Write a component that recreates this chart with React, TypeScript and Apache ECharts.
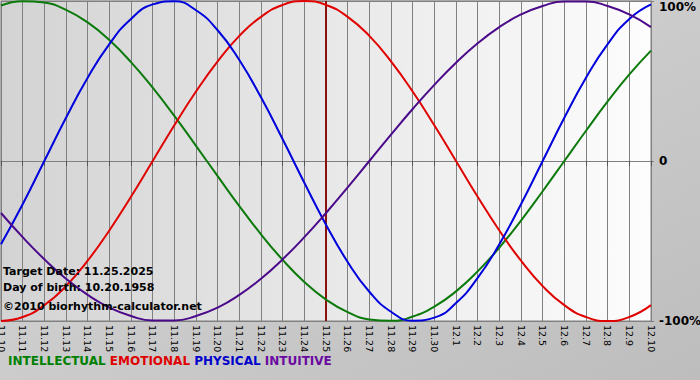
import React, { useEffect, useRef } from "react";
import * as echarts from "echarts";

const days = [
  "11.10", "11.11", "11.12", "11.13", "11.14", "11.15", "11.16", "11.17", "11.18", "11.19",
  "11.20", "11.21", "11.22", "11.23", "11.24", "11.25", "11.26", "11.27", "11.28", "11.29",
  "11.30", "12.1", "12.2", "12.3", "12.4", "12.5", "12.6", "12.7", "12.8", "12.9", "12.10",
];

const intellectual = [
  97.2, 99.9, 99.0, 94.5, 86.6, 75.6, 61.8, 45.8, 28.2, 9.5,
  -9.5, -28.2, -45.8, -61.8, -75.6, -86.6, -94.5, -99.0, -99.9, -97.2,
  -91.0, -81.5, -69.0, -54.1, -37.2, -18.9, 0, 18.9, 37.2, 54.1, 69.0,
];

const emotional = [
  -100, -97.5, -90.1, -78.2, -62.3, -43.4, -22.3, 0, 22.3, 43.4,
  62.3, 78.2, 90.1, 97.5, 100, 97.5, 90.1, 78.2, 62.3, 43.4,
  22.3, 0, -22.3, -43.4, -62.3, -78.2, -90.1, -97.5, -100, -97.5, -90.1,
];

const physical = [
  -52.0, -27.0, 0, 27.0, 52.0, 73.1, 88.8, 97.9, 99.8, 94.2,
  81.7, 63.1, 39.8, 13.6, -13.6, -39.8, -63.1, -81.7, -94.2, -99.8,
  -97.9, -88.8, -73.1, -52.0, -27.0, 0, 27.0, 52.0, 73.1, 88.8, 97.9,
];

const intuitive = [
  -32.5, -47.6, -61.4, -73.6, -83.7, -91.6, -96.9, -99.7, -99.7, -96.9,
  -91.6, -83.7, -73.6, -61.4, -47.6, -32.5, -16.5, 0, 16.5, 32.5,
  47.6, 61.4, 73.6, 83.7, 91.6, 96.9, 99.7, 99.7, 96.9, 91.6, 83.7,
];

const targetDay = "11.25";
const infoLines = ["Target Date: 11.25.2025", "Day of birth: 10.20.1958", "©2010 biorhythm-calculator.net"];
const legendNames = ["INTELLECTUAL", "EMOTIONAL", "PHYSICAL", "INTUITIVE"];

const lineColors = ["#0b7a0b", "#e00000", "#0000dd", "#4b0a8a"];
const legendColors = ["#008000", "#e00000", "#0000cc", "#6a0aa0"];

const FONT = "DejaVu Sans";

export default function App() {
  const ref = useRef<HTMLDivElement>(null);

  useEffect(() => {
    if (!ref.current) return;
    const chart = echarts.init(ref.current, null, { renderer: "svg" });

    const seriesData = [intellectual, emotional, physical, intuitive];
    const series: any[] = seriesData.map((d, i) => ({
      name: legendNames[i],
      type: "line",
      data: d,
      smooth: 0.5,
      symbol: "none",
      lineStyle: { color: lineColors[i], width: 2 },
      z: 3,
    }));
    series[0].markLine = {
      silent: true,
      symbol: "none",
      label: { show: false },
      lineStyle: { color: "#8b1010", width: 2, type: "solid" },
      data: [{ xAxis: targetDay }],
      z: 2,
    };

    const richStyles: any = {};
    legendNames.forEach((n, i) => {
      richStyles["c" + i] = {
        fill: legendColors[i],
        fontFamily: FONT,
        fontWeight: "bold",
        fontSize: 12,
      };
    });

    chart.setOption({
      animation: false,
      backgroundColor: new echarts.graphic.LinearGradient(0, 0, 1, 1, [
        { offset: 0, color: "#dadada" },
        { offset: 1, color: "#bdbdbd" },
      ]),
      grid: {
        left: 1,
        right: 49,
        top: 1,
        bottom: 59,
        outerBoundsMode: "none",
        containLabel: false,
        show: true,
        backgroundColor: new echarts.graphic.LinearGradient(0, 0, 1, 0, [
          { offset: 0, color: "#d3d3d3" },
          { offset: 1, color: "#fdfdfd" },
        ]),
        borderColor: "#808080",
        borderWidth: 1,
      },
      xAxis: {
        type: "category",
        data: days,
        boundaryGap: false,
        axisLine: { show: true, lineStyle: { color: "#808080", width: 1 } },
        axisTick: { show: true, interval: 0, length: 5, lineStyle: { color: "#555555" } },
        axisLabel: {
          interval: 0,
          rotate: -90,
          margin: 4,
          color: "#000000",
          fontFamily: FONT,
          fontSize: 9.5,
        },
        splitLine: { show: true, interval: 0, lineStyle: { color: "#808080", width: 1 } },
      },
      yAxis: {
        type: "value",
        position: "right",
        min: -100,
        max: 100,
        interval: 100,
        axisLine: { show: true, lineStyle: { color: "#808080" } },
        axisTick: { show: true, length: 3, lineStyle: { color: "#808080" } },
        axisLabel: {
          margin: 8,
          color: "#000000",
          fontFamily: FONT,
          fontWeight: "bold",
          fontSize: 12,
          verticalAlignMaxLabel: "top",
          formatter: (v: number) => (v === 0 ? "0" : v + "%"),
        },
        splitLine: { show: true, lineStyle: { color: "#808080", width: 1 } },
      },
      series,
      graphic: [
        ...infoLines.map((t, i) => ({
          type: "text",
          left: 3,
          top: [266, 282, 301][i],
          z: 10,
          style: {
            text: t,
            fill: "#000000",
            font: `bold 11px "${FONT}"`,
          },
        })),
        {
          type: "text",
          left: 8,
          top: 355,
          z: 10,
          style: {
            text: legendNames.map((n, i) => `{c${i}|${n}}`).join(" "),
            rich: richStyles,
            font: `bold 12px "${FONT}"`,
          },
        },
      ],
    });

    return () => chart.dispose();
  }, []);

  return (
    <div
      ref={ref}
      style={{ position: "fixed", left: 0, top: 0, width: 700, height: 380 }}
    />
  );
}
